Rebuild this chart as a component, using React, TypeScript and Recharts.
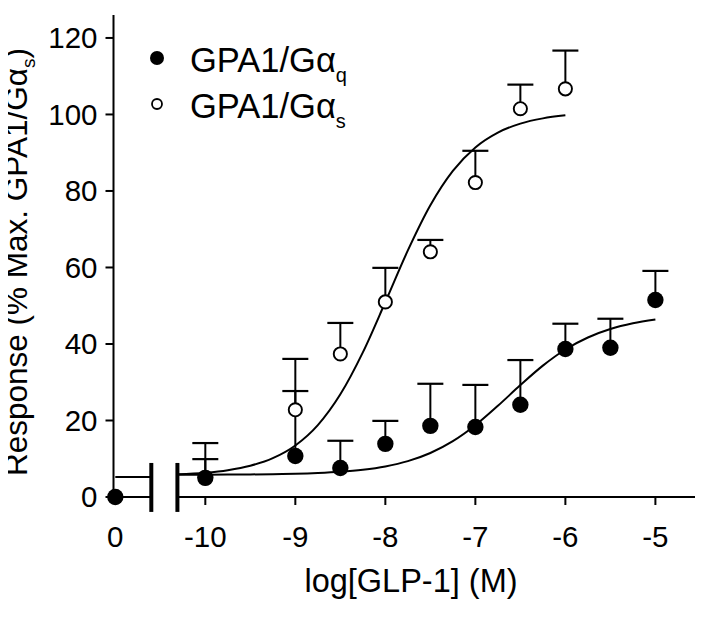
import React from 'react';
import { ComposedChart, XAxis, YAxis, Line, Scatter, ErrorBar, ReferenceLine } from 'recharts';

const FONT = '"Liberation Sans", Arial, Helvetica, sans-serif';

// x positions (log[GLP-1]); the control (no GLP-1) sits left of an axis break and is labelled "0"
const X_MIN = -11.02;
const X_MAX = -4.56;
const CONTROL_POS = -11;
const BREAK_LEFT = -10.6;
const BREAK_RIGHT = -10.31;
const BREAK_LOW = -3.9;
const BREAK_HIGH = 8.9;

const xTicks = [CONTROL_POS, -10, -9, -8, -7, -6, -5];
const yTicks = [0, 20, 40, 60, 80, 100, 120];

// GPA1/Gαq (filled circles)
const gqLogConc = [CONTROL_POS, -10, -9, -8.5, -8, -7.5, -7, -6.5, -6, -5.5, -5];
const gqMean = [0, 5.0, 10.7, 7.6, 13.9, 18.6, 18.3, 24.1, 38.7, 39.0, 51.5];
const gqSem = [0, 4.9, 17.0, 7.1, 6.0, 11.0, 11.0, 11.7, 6.6, 7.6, 7.6];

// GPA1/Gαs (open circles)
const gsLogConc = [CONTROL_POS, -10, -9, -8.5, -8, -7.5, -7, -6.5, -6];
const gsMean = [0, 5.0, 22.8, 37.4, 51.0, 64.1, 82.2, 101.5, 106.7];
const gsSem = [0, 9.1, 13.3, 8.1, 8.9, 3.1, 8.3, 6.3, 10.0];

// fitted curves
const gqFitX = [-10.31, -10, -9.75, -9.5, -9.25, -9, -8.75, -8.5, -8.25, -8, -7.75, -7.5, -7.25, -7, -6.75, -6.5, -6.25, -6, -5.75, -5.5, -5.25, -5];
const gqFitY = [5.82, 5.84, 5.86, 5.9, 5.97, 6.08, 6.28, 6.6, 7.13, 7.99, 9.37, 11.5, 14.6, 18.76, 23.83, 29.25, 34.34, 38.56, 41.7, 43.9, 45.4, 46.4];
const gsFitX = [-10.31, -10, -9.75, -9.5, -9.25, -9, -8.75, -8.5, -8.25, -8, -7.75, -7.5, -7.25, -7, -6.75, -6.5, -6.25, -6];
const gsFitY = [5.93, 6.36, 7.02, 8.17, 10.15, 13.47, 18.79, 26.84, 37.81, 50.97, 64.45, 76.26, 85.25, 91.38, 95.26, 97.61, 98.98, 99.77];

// baseline segment left of the axis break
const baseX = [CONTROL_POS, BREAK_LEFT];
const baseY = [5.2, 5.2];

const toPoints = (xs: number[], ys: number[], es?: number[]) =>
  xs.map((x, i) => ({ x, y: ys[i], err: es ? [0, es[i]] : undefined }));
const toCaps = (xs: number[], ys: number[], es: number[]) =>
  xs.map((x, i) => ({ x, y: ys[i] + es[i], e: es[i] })).filter((d) => d.e > 0);

const gqPoints = toPoints(gqLogConc, gqMean, gqSem);
const gsPoints = toPoints(gsLogConc, gsMean, gsSem);
const gqCaps = toCaps(gqLogConc, gqMean, gqSem);
const gsCaps = toCaps(gsLogConc, gsMean, gsSem);
const gqFit = toPoints(gqFitX, gqFitY);
const gsFit = toPoints(gsFitX, gsFitY);
const baseLine = toPoints(baseX, baseY);

const Cap = (p: any) => (
  <line x1={p.cx - 13} x2={p.cx + 13} y1={p.cy} y2={p.cy} stroke="#000" strokeWidth={2.2} />
);
const Nothing = () => <g />;
const Filled = (p: any) => <circle cx={p.cx} cy={p.cy} r={8.2} fill="#000" />;
const Open = (p: any) => <circle cx={p.cx} cy={p.cy} r={6.6} fill="#fff" stroke="#000" strokeWidth={1.9} />;

const tickStyle = { fill: '#000', fontSize: 29.5, fontFamily: FONT };
const tickLine = { stroke: '#000', strokeWidth: 2 };

export default function App() {
  return (
    <div style={{ position: 'relative', width: 697, height: 612, fontFamily: FONT }}>
      <ComposedChart width={697} height={612} margin={{ top: 7, right: 10, bottom: 33, left: 0 }}>
        <XAxis
          type="number"
          dataKey="x"
          domain={[X_MIN, X_MAX]}
          ticks={xTicks}
          interval={0}
          tickFormatter={(v: number) => (v === CONTROL_POS ? '0' : String(v))}
          axisLine={false}
          tickLine={tickLine}
          tickSize={8}
          tickMargin={21}
          height={90}
          tick={tickStyle}
        />
        <YAxis
          type="number"
          domain={[0, 126]}
          ticks={yTicks}
          interval={0}
          width={105.5}
          axisLine={{ stroke: '#000', strokeWidth: 2 }}
          tickLine={tickLine}
          tickSize={8}
          tickMargin={8}
          tick={tickStyle}
        />
        <ReferenceLine segment={[{ x: X_MIN, y: 0 }, { x: BREAK_LEFT, y: 0 }]} stroke="#000" strokeWidth={2} ifOverflow="visible" />
        <ReferenceLine segment={[{ x: BREAK_RIGHT, y: 0 }, { x: X_MAX, y: 0 }]} stroke="#000" strokeWidth={2} ifOverflow="visible" />
        <ReferenceLine segment={[{ x: BREAK_LEFT, y: BREAK_LOW }, { x: BREAK_LEFT, y: BREAK_HIGH }]} stroke="#000" strokeWidth={4} ifOverflow="visible" />
        <ReferenceLine segment={[{ x: BREAK_RIGHT, y: BREAK_LOW }, { x: BREAK_RIGHT, y: BREAK_HIGH }]} stroke="#000" strokeWidth={4} ifOverflow="visible" />

        <Line data={baseLine} dataKey="y" type="linear" stroke="#000" strokeWidth={2} dot={false} activeDot={false} isAnimationActive={false} />
        <Line data={gsFit} dataKey="y" type="monotone" stroke="#000" strokeWidth={2} dot={false} activeDot={false} isAnimationActive={false} />
        <Line data={gqFit} dataKey="y" type="monotone" stroke="#000" strokeWidth={2} dot={false} activeDot={false} isAnimationActive={false} />

        <Scatter data={gsPoints} dataKey="y" shape={Nothing} isAnimationActive={false}>
          <ErrorBar dataKey="err" direction="y" width={0} stroke="#000" strokeWidth={2} isAnimationActive={false} />
        </Scatter>
        <Scatter data={gqPoints} dataKey="y" shape={Nothing} isAnimationActive={false}>
          <ErrorBar dataKey="err" direction="y" width={0} stroke="#000" strokeWidth={2} isAnimationActive={false} />
        </Scatter>
        <Scatter data={gsCaps} dataKey="y" shape={Cap} isAnimationActive={false} />
        <Scatter data={gqCaps} dataKey="y" shape={Cap} isAnimationActive={false} />
        <Scatter data={gsPoints} dataKey="y" shape={Open} isAnimationActive={false} />
        <Scatter data={gqPoints} dataKey="y" shape={Filled} isAnimationActive={false} />
      </ComposedChart>
      <svg width={697} height={612} style={{ position: 'absolute', left: 0, top: 0, pointerEvents: 'none', overflow: 'visible' }}>
        <text
          x={18.5}
          y={254}
          transform="rotate(-90 18.5 254)"
          textAnchor="middle"
          fontSize={31.5}
          fontFamily={FONT}
          fill="#000"
        >
          <tspan>Response (% Max. GPA1/Gα</tspan>
          <tspan fontSize={19} dy={8}>s</tspan>
          <tspan dy={-8}>)</tspan>
        </text>
        <text x={403} y={584} textAnchor="middle" fontSize={32.5} fontFamily={FONT} fill="#000">
          log[GLP-1] (M)
        </text>
        <circle cx={149} cy={50} r={7} fill="#000" />
        <text x={182} y={64} fontSize={34.5} fontFamily={FONT} fill="#000">
          <tspan>GPA1/Gα</tspan>
          <tspan fontSize={20} dy={10}>q</tspan>
        </text>
        <circle cx={149} cy={96} r={5} fill="#fff" stroke="#000" strokeWidth={1.8} />
        <text x={182} y={110} fontSize={34.5} fontFamily={FONT} fill="#000">
          <tspan>GPA1/Gα</tspan>
          <tspan fontSize={20} dy={10}>s</tspan>
        </text>
      </svg>
    </div>
  );
}
